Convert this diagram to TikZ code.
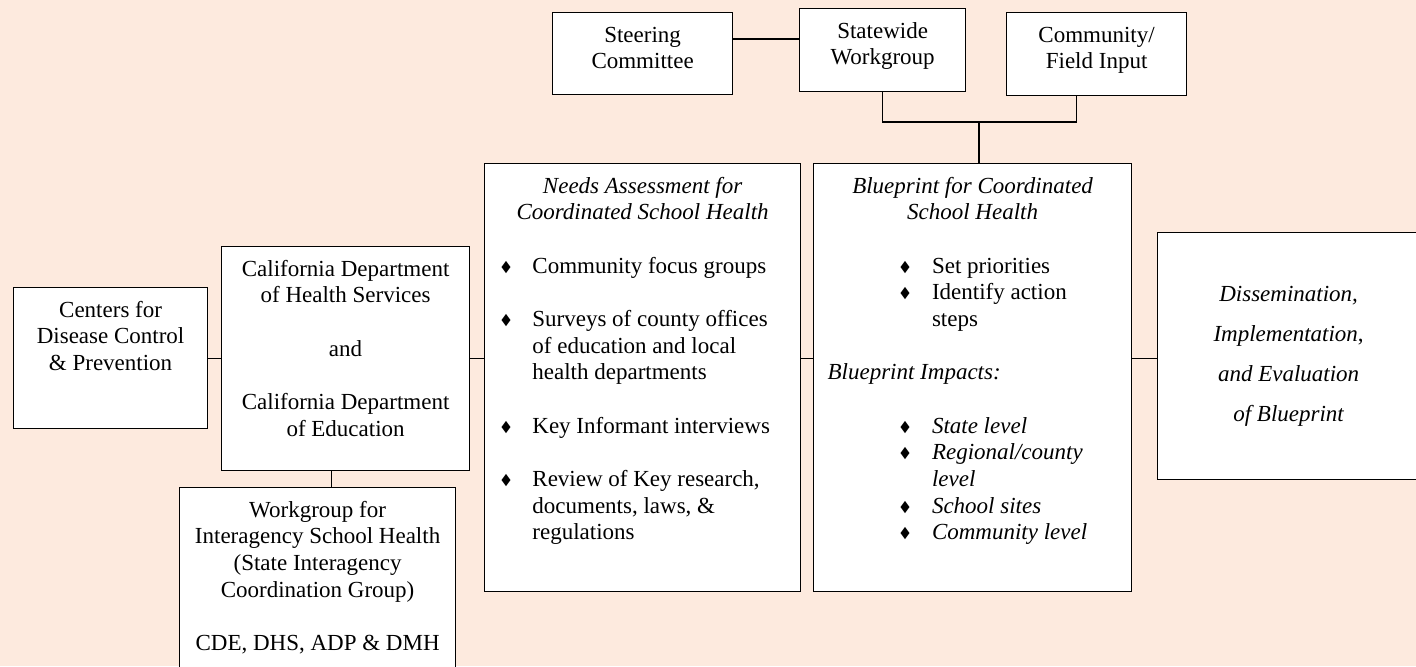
\documentclass[tikz,border=0pt]{standalone}
\usepackage{fontspec}
\setmainfont{Liberation Serif}
\usepackage{pifont}
\usepackage{graphicx}
\usetikzlibrary{positioning,calc}

\definecolor{peach}{RGB}{253,234,222}
\tikzset{
box/.style={draw=black, fill=white, line width=0.6pt, inner sep=0pt, anchor=north west},
link/.style={draw=black, line width=0.6pt}
}
\newcommand{\bodyfont}{\fontsize{11.5}{13.33}\selectfont}
\newcommand{\firstln}{\rule{0pt}{14.75pt}}
\newcommand{\dia}{{\upshape\scalebox{0.55}[0.75]{\ding{117}}}}
\newcommand{\boxtext}[3]{\parbox[t][#2][t]{#1}{\centering\firstln #3}}
% bullet item: diamond offset, text offset, text
\newcommand{\itm}[3]{\par\noindent\hangindent=#2\hangafter=1\hspace*{#1}\makebox[\dimexpr#2-#1\relax][l]{\dia}#3\par}
\newcommand{\needsitem}[1]{\itm{8.3pt}{23.9pt}{#1}}
\newcommand{\blueitem}[1]{\itm{43.3pt}{59.2pt}{#1}}

\begin{document}
\begin{tikzpicture}[x=0.5pt, y=-0.5pt, font=\bodyfont]
\useasboundingbox (0,0) rectangle (1416,666);
\clip (0,0) rectangle (1416,666);
\fill[peach] (0,0) rectangle (1416,666);

% top row
\node[box] (steer) at (552,12) {\boxtext{90pt}{41pt}{Steering\\Committee}};
\node[box] (wg) at (799,8) {\boxtext{83pt}{41.5pt}{Statewide\\Workgroup}};
\node[box] (comm) at (1006,12) {\boxtext{90pt}{41.3pt}{Community/\\Field Input}};

% left column
\node[box] (cdc) at (13,287) {\boxtext{97pt}{70.5pt}{Centers for\\Disease Control\\\& Prevention}};
\node[box] (cal) at (221,246) {\boxtext{124pt}{112pt}{California Department\\of Health Services\\[13.33pt]and\\[13.33pt]California Department\\of Education}};
\node[box] (work) at (179,487) {\boxtext{138pt}{100pt}{Workgroup for\\Interagency School Health\\(State Interagency\\Coordination Group)\\[13.33pt]CDE, DHS, ADP \& DMH}};

% middle
\node[box] (needs) at (484,163) {\parbox[t][214pt][t]{158pt}{%
{\centering\itshape\firstln Needs Assessment for\\Coordinated School Health\par}
\vspace{13.33pt}\raggedright
\needsitem{Community focus groups}
\vspace{13.33pt}
\needsitem{Surveys of county offices\newline of education and local\newline health departments}
\vspace{13.33pt}
\needsitem{Key Informant interviews}
\vspace{13.33pt}
\needsitem{Review of Key research,\newline documents, laws, \&\newline regulations}}};

\node[box] (blue) at (813,163) {\parbox[t][214pt][t]{159pt}{%
{\centering\itshape\firstln Blueprint for Coordinated\\School Health\par}
\vspace{13.33pt}\raggedright
\blueitem{Set priorities}
\blueitem{Identify action\newline steps}
\vspace{13.33pt}
\noindent\hspace*{7pt}\textit{Blueprint Impacts:}\par
\vspace{13.33pt}
{\itshape
\blueitem{State level}
\blueitem{Regional/county\newline level}
\blueitem{School sites}
\blueitem{Community level}}}};

% right
\node[box, minimum width=131pt, minimum height=123.5pt, align=center, font=\bodyfont\itshape] (diss) at (1157,232)
  {Dissemination,\\[6.67pt]Implementation\textup{,}\\[6.67pt]and Evaluation\\[6.67pt]of Blueprint};

% connectors
\draw[link] (steer.north east) ++(0,27) coordinate (s1) -- (s1 -| wg.west);
\coordinate (fork) at (979,122);
\draw[link] (wg.south) |- (fork) -| ([xshift=-10pt]comm.south);
\draw[link] (fork) -- (fork |- blue.north);
\draw[link] (cdc.east) -- (cal.west |- cdc.east);
\draw[link] (cal.east |- cdc.east) -- (needs.west |- cdc.east);
\draw[link] (needs.east |- cdc.east) -- (blue.west |- cdc.east);
\draw[link] (blue.east |- cdc.east) -- (diss.west |- cdc.east);
\draw[link] ([xshift=-7pt]cal.south) coordinate (c2) -- (c2 |- work.north);
\end{tikzpicture}
\end{document}
